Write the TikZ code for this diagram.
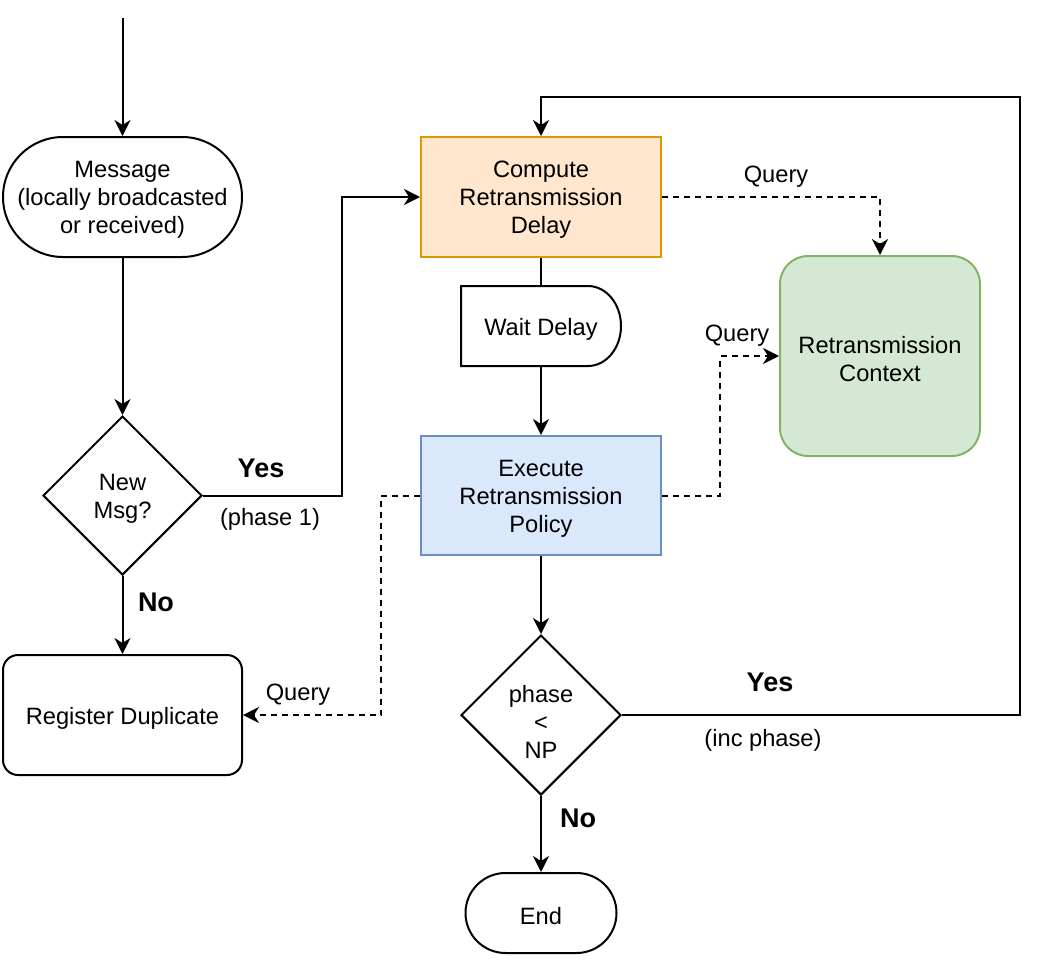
\documentclass[tikz,border=0pt]{standalone}
\usepackage{fontspec}
\setmainfont{Liberation Sans}
\usetikzlibrary{shapes.geometric,arrows.meta}
\definecolor{orfill}{HTML}{FFE6CC}
\definecolor{ordraw}{HTML}{D79B00}
\definecolor{blfill}{HTML}{DAE8FC}
\definecolor{bldraw}{HTML}{6C8EBF}
\definecolor{grfill}{HTML}{D5E8D4}
\definecolor{grdraw}{HTML}{82B366}
\begin{document}
\begin{tikzpicture}[x=0.5pt,y=-0.5pt, line width=1pt,
  font=\fontsize{11.83}{14}\selectfont,
  lbl/.style={inner sep=0, align=center},
  txt/.style={label={[lbl, yshift=-1.5pt]center:#1}},
  txtlow/.style={label={[lbl, yshift=-3.5pt]center:#1}},
  box/.style={draw, rectangle, inner sep=0, minimum width=120pt, minimum height=60pt},
  stadium/.style={draw, rectangle, inner sep=0},
  decision/.style={draw, diamond, aspect=1, inner sep=0, minimum width=79.5pt, minimum height=79.5pt},
  arr/.style={-{Stealth[length=8pt,width=8pt,inset=2.5pt]}},
  qry/.style={arr, dash pattern=on 3pt off 2.5pt},
  boldlbl/.style={inner sep=0, font=\fontsize{13.5}{16}\selectfont\bfseries},
]
\useasboundingbox (0,0) rectangle (1039,959);

% nodes
\coordinate (start) at (122.5,18);
\node[stadium, minimum width=119.5pt, minimum height=60pt, rounded corners=30pt,
  txt={Message\\(locally broadcasted\\or received)}] (msg) at (122.5,197) {};
\node[decision, txt={New\\Msg?}] (newmsg) at (122.5,495.5) {};
\node[stadium, minimum width=119.5pt, minimum height=60pt, rounded corners=7.5pt,
  txt={Register Duplicate}] (dup) at (122.5,715) {};
\node[box, fill=orfill, draw=ordraw, txt={Compute\\Retransmission\\Delay}] (comp) at (541,197) {};
\node[inner sep=0, minimum width=80pt, minimum height=40pt, txt={Wait Delay}] (wait) at (541,326) {};
\draw (461,286) -- (588,286) arc[start angle=90, end angle=-90, x radius=16.5pt, y radius=20pt] -- (461,366) -- cycle;
\node[box, fill=blfill, draw=bldraw, minimum height=59.5pt,
  txt={Execute\\Retransmission\\Policy}] (exec) at (541,495.5) {};
\node[box, fill=grfill, draw=grdraw, minimum width=100pt, minimum height=100pt, rounded corners=14pt,
  txt={Retransmission\\Context}] (ctx) at (880,356) {};
\node[decision, minimum width=80pt, minimum height=80pt, txtlow={phase\\<\\NP}] (phase) at (541,715) {};
\node[stadium, minimum width=75.5pt, minimum height=40pt, rounded corners=20pt, txt={End}] (end) at (541,913) {};

% waypoints
\coordinate (yesbend) at (342,495.5);
\coordinate (qctx) at (720,495.5);
\coordinate (qdup) at (381,495.5);
\coordinate (loopA) at (1020,715);
\coordinate (loopB) at (1020,97);

% connectors
\draw[arr] (start) -- (msg.north);
\draw[arr] (msg.south) -- (newmsg.north);
\draw[arr] (newmsg.east) -- (yesbend) |- (comp.west);
\draw[arr] (newmsg.south) -- (dup.north);
\draw (comp.south) -- (wait.north);
\draw[arr] (wait.south) -- (exec.north);
\draw[qry] (comp.east) -| (ctx.north);
\draw[qry] (exec.east) -- (qctx) |- (ctx.west);
\draw[qry] (exec.west) -- (qdup) |- (dup.east);
\draw[arr] (exec.south) -- (phase.north);
\draw[arr] (phase.east) -- (loopA) -- (loopB) -| (comp.north);
\draw[arr] (phase.south) -- (end.north);

% labels
\node[boldlbl] (yes1) at (261,468) {Yes};
\node[lbl] (ph1) at (270,519) {(phase 1)};
\node[boldlbl] (no1) at (156,602) {No};
\node[lbl] (q1) at (776,177) {Query};
\node[lbl] (q2) at (737,336) {Query};
\node[lbl] (q3) at (298,695) {Query};
\node[boldlbl] (yes2) at (770,682) {Yes};
\node[lbl] (inc) at (763,740) {(inc phase)};
\node[boldlbl] (no2) at (578,818) {No};
\end{tikzpicture}
\end{document}
